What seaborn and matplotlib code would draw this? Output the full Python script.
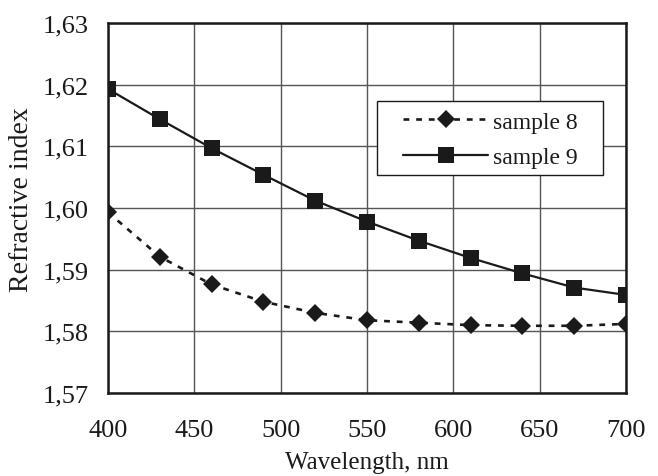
import matplotlib
matplotlib.use("Agg")
import matplotlib.pyplot as plt
from matplotlib.patches import Rectangle
import seaborn as sns
import pandas as pd

# Refractive index dispersion of two samples
wavelength = [400, 430, 460, 490, 520, 550, 580, 610, 640, 670, 700]
sample8 = [1.5993, 1.5921, 1.5876, 1.5848, 1.5830, 1.5818, 1.5814, 1.5810, 1.5809, 1.5809, 1.5812]
sample9 = [1.6193, 1.6144, 1.6097, 1.6054, 1.6012, 1.5978, 1.5947, 1.5919, 1.5894, 1.5871, 1.5859]
x_ticks = [400, 450, 500, 550, 600, 650, 700]
y_ticks = [1.57, 1.58, 1.59, 1.60, 1.61, 1.62, 1.63]

sns.set_theme(style="white")
plt.rcParams["font.family"] = ["Liberation Serif", "DejaVu Serif"]

INK = "#1a1a1a"
df8 = pd.DataFrame({"wavelength": wavelength, "n": sample8})
df9 = pd.DataFrame({"wavelength": wavelength, "n": sample9})

fig = plt.figure(figsize=(6.58, 4.77), dpi=100)
ax = fig.add_axes([108 / 658, 1 - 394 / 477, 518 / 658, 370 / 477])

sns.lineplot(data=df8, x="wavelength", y="n", ax=ax, color=INK,
             linewidth=1.9, linestyle=(0, (2.2, 2.6)), marker="D",
             markersize=9, markeredgewidth=0, label="sample 8")
sns.lineplot(data=df9, x="wavelength", y="n", ax=ax, color=INK,
             linewidth=1.6, linestyle="-", marker="s",
             markersize=11.5, markeredgewidth=0, label="sample 9")

ax.set_xlim(400, 700)
ax.set_ylim(1.57, 1.63)
ax.set_xticks(x_ticks)
ax.set_yticks(y_ticks)
ax.set_xticklabels([str(v) for v in x_ticks])
ax.set_yticklabels([f"{v:.2f}".replace(".", ",") for v in y_ticks])
ax.tick_params(axis="both", length=0, labelsize=19, colors=INK)
ax.tick_params(axis="x", pad=19)
ax.tick_params(axis="y", pad=14)

ax.grid(True, color="#555555", linewidth=1.0)
ax.set_axisbelow(True)
for s in ax.spines.values():
    s.set_color(INK)
    s.set_linewidth(1.8)
    s.set_visible(True)

ax.set_xlabel("Wavelength, nm", fontsize=18, color=INK, labelpad=7)
ax.set_ylabel("Refractive index", fontsize=20, color=INK)
ax.yaxis.set_label_coords(-0.142, 0.525)

# legend frame drawn as a plain rectangle so the padding can be set freely
ax.add_patch(Rectangle((0.5193, 0.5892), 0.4363, 0.2, transform=ax.transAxes,
                       facecolor="white", edgecolor=INK, linewidth=1.0, zorder=4))
leg = ax.legend(loc="upper left", bbox_to_anchor=(0.5695, 0.762), borderaxespad=0,
                fontsize=17, frameon=False, handlelength=3.6,
                handletextpad=0.2, borderpad=0, labelspacing=0.58)
leg.set_zorder(5)
for t in leg.get_texts():
    t.set_color(INK)

fig.savefig("out.png", dpi=100)
